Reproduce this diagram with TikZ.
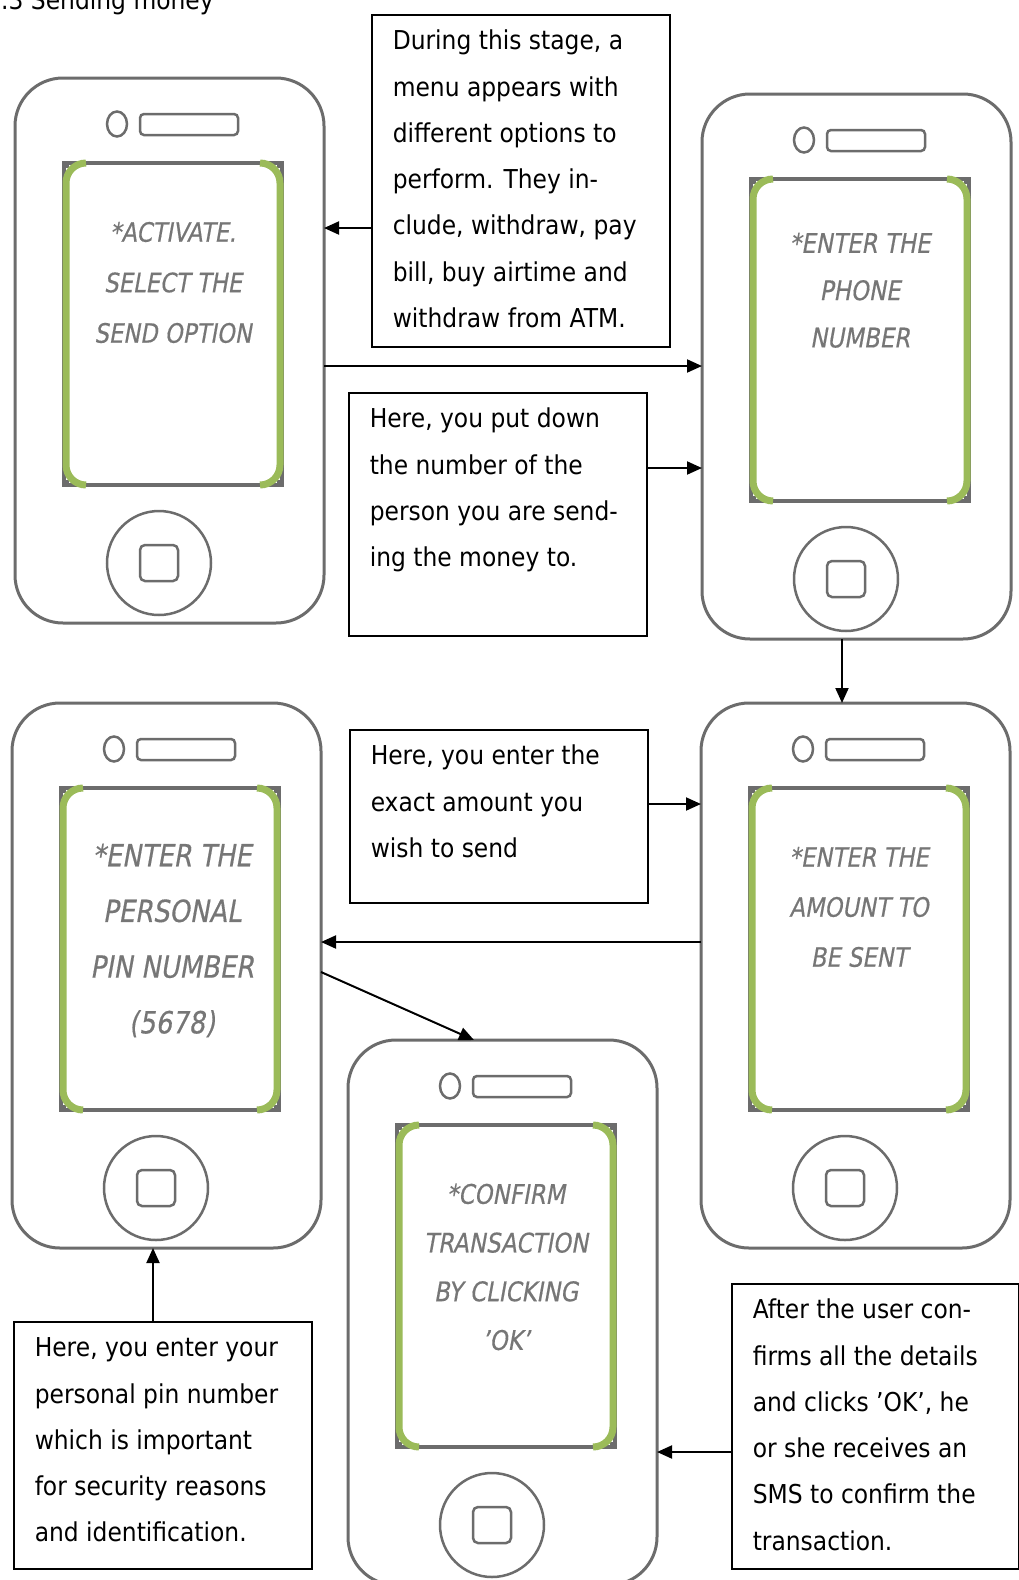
\documentclass[tikz,border=0pt]{standalone}
\usepackage{fontspec}
\setmainfont{DejaVu Sans}[FakeStretch=0.9]
\newfontfamily\scrfont{DejaVu Sans}[FakeStretch=0.85,FakeSlant=0.18,FakeBold=0.4]
\usetikzlibrary{arrows.meta}
\definecolor{phl}{RGB}{108,108,108}
\definecolor{scrg}{RGB}{118,118,118}
\definecolor{scrgreen}{RGB}{155,187,89}
\newcommand\phoneparts[1]{%
  \begin{scope}[shift={(#1.north west)}]
    \draw[partline] (102,46) ellipse [x radius=10pt, y radius=12.5pt];
    \draw[partline, rounded corners=4pt] (125,36) rectangle (223,57);
    \draw[draw=phl, line width=3.5pt, fill=white] (49,85) rectangle (267,407);
    \fill[phl] (49,85) rectangle (54,90);
    \fill[phl] (262,85) rectangle (267,90);
    \fill[phl] (49,402) rectangle (54,407);
    \fill[phl] (262,402) rectangle (267,407);
    \draw[scrgreen, line width=7pt, rounded corners=20pt] (71,85) -- (51,85) -- (51,407) -- (71,407);
    \draw[scrgreen, line width=7pt, rounded corners=20pt] (245,85) -- (265,85) -- (265,407) -- (245,407);
    \draw[partline] (144,485) circle [radius=52pt];
    \draw[partline, rounded corners=5pt] (125,467) rectangle (163,503);
  \end{scope}}
\newcommand\boxtext[3]{\parbox[c][#1][t]{#2}{\fontsize{26pt}{46.3pt}\selectfont\leftskip=21pt\relax\rule{0pt}{35pt}#3}}
\begin{document}
\begin{tikzpicture}[x=1pt,y=-1pt,
  phonebody/.style={draw=phl,line width=3pt,rounded corners=48pt,minimum width=309pt,minimum height=545pt,inner sep=0pt,outer sep=0pt,anchor=north west,fill=white},
  textbox/.style={draw=black,line width=1.5pt,inner sep=0pt,anchor=north west,fill=white},
  scrtxt/.style={text=scrg,align=center,inner sep=0pt,anchor=center},
  arr/.style={draw=black,line width=2pt,-{Triangle[length=15pt,width=13pt]}},
  partline/.style={draw=phl,line width=2.5pt}]
\useasboundingbox (0,0) rectangle (1019,1580);

\node[anchor=base west, inner sep=0pt, font=\fontsize{26pt}{30pt}\selectfont] (title) at (1,9) {.3 Sending money};

% phones
\node[phonebody] (p1) at (15,78) {};
\node[phonebody] (p2) at (702,94) {};
\node[phonebody] (p3) at (12,703) {};
\node[phonebody] (p4) at (701,703) {};
\node[phonebody] (p5) at (348,1040) {};
\phoneparts{p1}
\phoneparts{p2}
\phoneparts{p3}
\phoneparts{p4}
\phoneparts{p5}

% screen texts
\begin{scope}[shift={(p1.north west)}]
  \node[scrtxt, font={\scrfont\fontsize{26.7pt}{50.5pt}\selectfont}] (s1) at (158,204.5) {*ACTIVATE.\\SELECT THE\\SEND OPTION};
\end{scope}
\begin{scope}[shift={(p2.north west)}]
  \node[scrtxt, font={\scrfont\fontsize{27pt}{47.3pt}\selectfont}] (s2) at (158,196.3) {*ENTER THE\\PHONE\\NUMBER};
\end{scope}
\begin{scope}[shift={(p3.north west)}]
  \node[scrtxt, font={\scrfont\fontsize{30.5pt}{55.7pt}\selectfont}] (s3) at (160,237.5) {*ENTER THE\\PERSONAL\\PIN NUMBER\\(5678)};
\end{scope}
\begin{scope}[shift={(p4.north west)}]
  \node[scrtxt, font={\scrfont\fontsize{26.7pt}{50pt}\selectfont}] (s4) at (158,204) {*ENTER THE\\AMOUNT TO\\BE SENT};
\end{scope}
\begin{scope}[shift={(p5.north west)}]
  \node[scrtxt, font={\scrfont\fontsize{27pt}{48.7pt}\selectfont}] (s5) at (158,227) {*CONFIRM\\TRANSACTION\\BY CLICKING\\’OK’};
\end{scope}

% text boxes
\node[textbox] (boxA) at (371,14) {\boxtext{332pt}{298pt}{\mbox{During this stage, a}\\\mbox{menu appears with}\\\mbox{different options to}\\\mbox{perform. They in-}\\\mbox{clude, withdraw, pay}\\\mbox{bill, buy airtime and}\\\mbox{withdraw from ATM.}}};
\node[textbox] (boxB) at (348,392) {\boxtext{243pt}{298pt}{\mbox{Here, you put down}\\\mbox{the number of the}\\\mbox{person you are send-}\\\mbox{ing the money to.}}};
\node[textbox] (boxC) at (349,729) {\boxtext{173pt}{298pt}{\mbox{Here, you enter the}\\\mbox{exact amount you}\\\mbox{wish to send}}};
\node[textbox] (boxD) at (13,1321) {\boxtext{247pt}{298pt}{\mbox{Here, you enter your}\\\mbox{personal pin number}\\\mbox{which is important}\\\mbox{for security reasons}\\\mbox{and identification.}}};
\node[textbox] (boxE) at (731,1283) {\boxtext{285pt}{287pt}{\mbox{After the user con-}\\\mbox{firms all the details}\\\mbox{and clicks ’OK’, he}\\\mbox{or she receives an}\\\mbox{SMS to confirm the}\\\mbox{transaction.}}};

% connector levels
\coordinate (r1) at (0,228);
\coordinate (r2) at (0,366);
\coordinate (r3) at (0,468);
\coordinate (c4) at (842,0);
\coordinate (r5) at (0,804);
\coordinate (r6) at (0,942);
\coordinate (r7) at (0,972);
\coordinate (c7) at (474,0);
\coordinate (c8) at (153,0);
\coordinate (r9) at (0,1452);

\draw[arr] (boxA.west |- r1) -- (p1.east |- r1);
\draw[arr] (p1.east |- r2) -- (p2.west |- r2);
\draw[arr] (boxB.east |- r3) -- (p2.west |- r3);
\draw[arr] (p2.south -| c4) -- (p4.north -| c4);
\draw[arr] (boxC.east |- r5) -- (p4.west |- r5);
\draw[arr] (p4.west |- r6) -- (p3.east |- r6);
\draw[arr] (p3.east |- r7) -- (p5.north -| c7);
\draw[arr] (boxD.north -| c8) -- (p3.south -| c8);
\draw[arr] (boxE.west |- r9) -- (p5.east |- r9);
\end{tikzpicture}
\end{document}
